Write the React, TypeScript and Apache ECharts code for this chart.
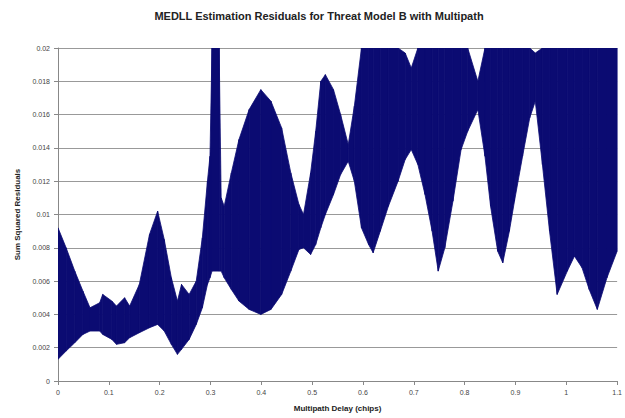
import React, { useEffect, useRef } from "react";
import * as echarts from "echarts";

// Multipath delay (chips) at which the envelope of the residual band was read
const delay = [
  0.0, 0.016, 0.033, 0.049, 0.063, 0.082, 0.088, 0.106, 0.115, 0.131,
  0.141, 0.16, 0.18, 0.196, 0.209, 0.223, 0.235, 0.243, 0.258, 0.272,
  0.284, 0.294, 0.299, 0.303, 0.317, 0.321, 0.327, 0.341, 0.356, 0.376,
  0.399, 0.419, 0.44, 0.458, 0.474, 0.483, 0.497, 0.507, 0.517, 0.526,
  0.542, 0.556, 0.571, 0.583, 0.597, 0.611, 0.62, 0.634, 0.65, 0.669,
  0.683, 0.695, 0.708, 0.722, 0.736, 0.748, 0.761, 0.777, 0.793, 0.806,
  0.826, 0.84, 0.851, 0.865, 0.875, 0.888, 0.898, 0.914, 0.928, 0.939,
  0.953, 0.967, 0.982, 1.002, 1.016, 1.031, 1.045, 1.061, 1.08, 1.1,
];

// Lower envelope of the sum squared residuals
const lowerEnv = [
  0.0013, 0.0018, 0.0023, 0.0028, 0.003, 0.003, 0.0028, 0.0025, 0.0022, 0.0023,
  0.0026, 0.0029, 0.0032, 0.0034, 0.003, 0.0022, 0.0016, 0.0019, 0.0025, 0.0034,
  0.0044, 0.0058, 0.0062, 0.0066, 0.0066, 0.0066, 0.0062, 0.0055, 0.0048, 0.0043,
  0.004, 0.0043, 0.0052, 0.0066, 0.0079, 0.008, 0.0076, 0.0082, 0.0092, 0.01,
  0.0112, 0.0124, 0.0132, 0.012, 0.0092, 0.0082, 0.0077, 0.009, 0.0105, 0.012,
  0.0133, 0.0139, 0.013, 0.0112, 0.009, 0.0066, 0.008, 0.0108, 0.0139, 0.015,
  0.0163, 0.0135, 0.0105, 0.0078, 0.0071, 0.009, 0.0108, 0.0135, 0.0158, 0.0168,
  0.013, 0.009, 0.0052, 0.0066, 0.0075, 0.0068, 0.0055, 0.0043, 0.0062, 0.0078,
];

// Upper envelope of the sum squared residuals (clipped at the 0.02 axis maximum)
const upperEnv = [
  0.0092, 0.008, 0.0066, 0.0054, 0.0044, 0.0047, 0.0052, 0.0048, 0.0045, 0.005,
  0.0045, 0.0058, 0.0088, 0.0102, 0.0085, 0.0062, 0.0048, 0.0058, 0.0052, 0.006,
  0.0086, 0.012, 0.0135, 0.02, 0.02, 0.011, 0.0105, 0.0125, 0.0145, 0.0163,
  0.0175, 0.0168, 0.0152, 0.0125, 0.0106, 0.01, 0.0125, 0.015, 0.018, 0.0184,
  0.0175, 0.016, 0.0142, 0.0165, 0.02, 0.02, 0.02, 0.02, 0.02, 0.02,
  0.0197, 0.0188, 0.02, 0.02, 0.02, 0.02, 0.02, 0.02, 0.02, 0.02,
  0.018, 0.02, 0.02, 0.02, 0.02, 0.02, 0.02, 0.02, 0.02, 0.0197,
  0.02, 0.02, 0.02, 0.02, 0.02, 0.02, 0.02, 0.02, 0.02, 0.02,
];

const xTicks = ["0", "0.1", "0.2", "0.3", "0.4", "0.5", "0.6", "0.7", "0.8", "0.9", "1", "1.1"];
const yTicks = ["0", "0.002", "0.004", "0.006", "0.008", "0.01", "0.012", "0.014", "0.016", "0.018", "0.02"];

const NAVY = "#0b0b72";
const FONT = "Liberation Sans, Arial, sans-serif";

export default function App() {
  const ref = useRef<HTMLDivElement>(null);
  useEffect(() => {
    if (!ref.current) return;
    const chart = echarts.init(ref.current, null, { renderer: "svg" });
    // each item is one segment of the band: [x0, lo0, hi0, x1, lo1, hi1]
    const segments = delay.slice(0, -1).map((x, i) => [
      x, lowerEnv[i], upperEnv[i], delay[i + 1], lowerEnv[i + 1], upperEnv[i + 1],
    ]);
    chart.setOption({
      animation: false,
      backgroundColor: "#ffffff",
      title: {
        text: "MEDLL Estimation Residuals for Threat Model B with Multipath",
        left: 314,
        top: 5,
        textAlign: "center",
        textStyle: { fontSize: 11, fontWeight: "bold", color: "#222", fontFamily: FONT },
      },
      grid: { left: 58, right: 5, top: 48, bottom: 37, containLabel: false },
      xAxis: {
        type: "value",
        min: 0,
        max: 1.1,
        interval: 0.1,
        name: "Multipath Delay (chips)",
        nameLocation: "middle",
        nameGap: 23,
        nameTextStyle: { fontSize: 8, fontWeight: "bold", color: "#222", fontFamily: FONT },
        axisLine: { lineStyle: { color: "#888", width: 1 } },
        axisTick: { show: true, length: 4, lineStyle: { color: "#888" } },
        axisLabel: {
          fontSize: 7,
          color: "#444",
          fontFamily: FONT,
          margin: 8,
          formatter: (v: number) => xTicks[Math.round(v * 10)] ?? "",
        },
        splitLine: { show: false },
      },
      yAxis: {
        type: "value",
        min: 0,
        max: 0.02,
        interval: 0.002,
        name: "Sum Squared Residuals",
        nameLocation: "middle",
        nameGap: 36,
        nameRotate: 90,
        nameTextStyle: { fontSize: 8, fontWeight: "bold", color: "#222", fontFamily: FONT },
        axisLine: { show: true, lineStyle: { color: "#888", width: 1 } },
        axisTick: { show: true, length: 4, lineStyle: { color: "#888" } },
        axisLabel: {
          fontSize: 7,
          color: "#444",
          fontFamily: FONT,
          margin: 8,
          formatter: (v: number) => yTicks[Math.round(v / 0.002)] ?? "",
        },
        splitLine: { show: true, lineStyle: { color: "#999", width: 1 } },
      },
      series: [
        {
          name: "residuals",
          type: "custom",
          silent: true,
          clip: true,
          encode: { x: [0, 3], y: [1, 2, 4, 5] },
          data: segments,
          renderItem: (params: any, api: any) => {
            const p0 = api.coord([api.value(0), api.value(1)]);
            const p1 = api.coord([api.value(3), api.value(4)]);
            const p2 = api.coord([api.value(3), api.value(5)]);
            const p3 = api.coord([api.value(0), api.value(2)]);
            return {
              type: "polygon",
              shape: { points: [p0, p1, p2, p3] },
              style: { fill: NAVY, stroke: NAVY, lineWidth: 0.8 },
            };
          },
        },
      ],
    });
    return () => chart.dispose();
  }, []);
  return (
    <div
      ref={ref}
      style={{ position: "fixed", left: 0, top: 0, width: 625, height: 418, background: "#fff" }}
    />
  );
}
